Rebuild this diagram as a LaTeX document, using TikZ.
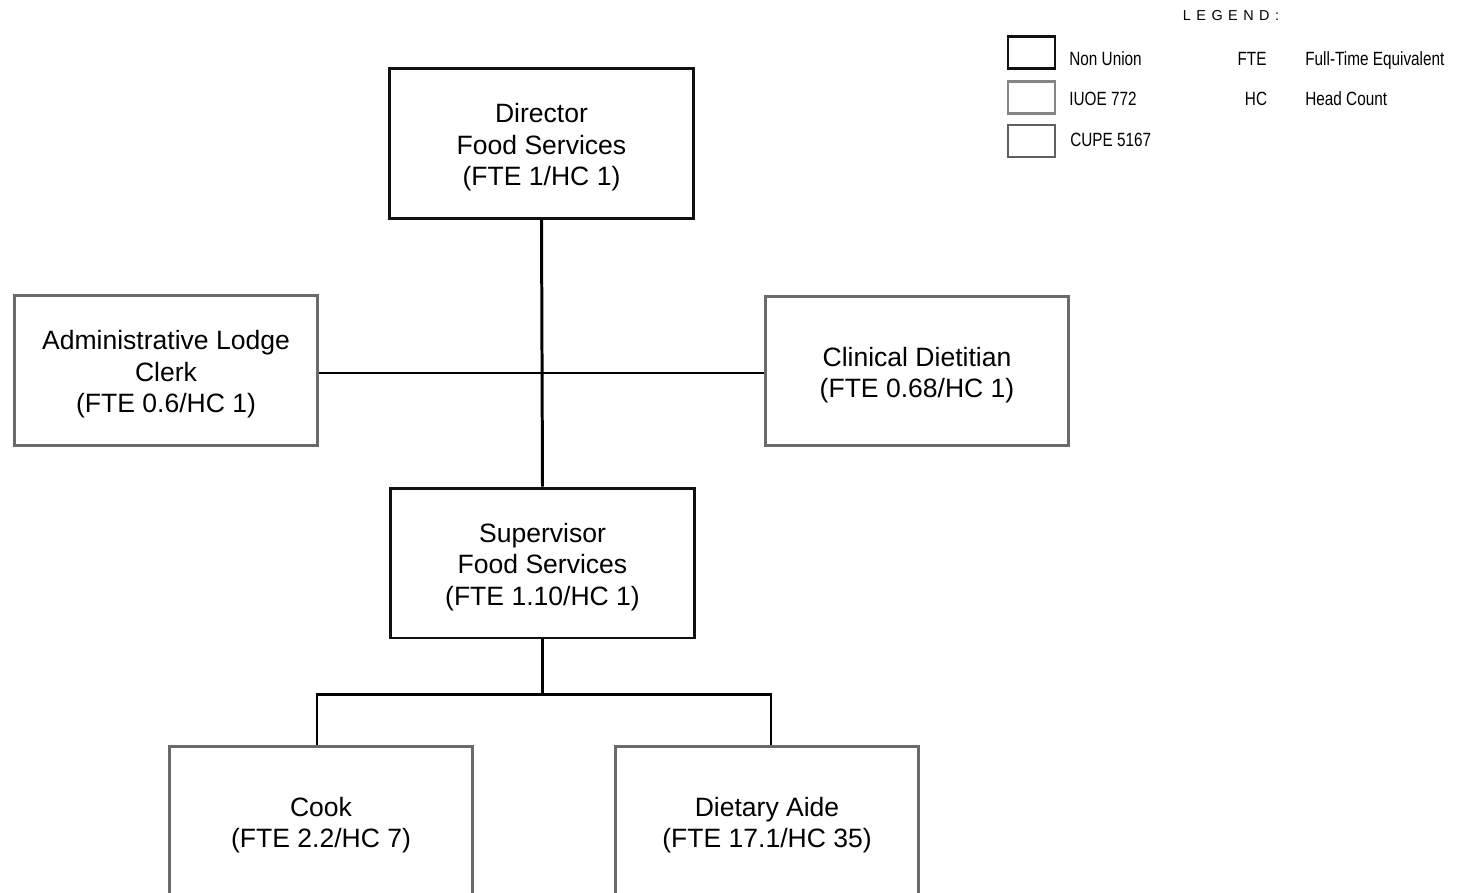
\documentclass[tikz,border=0pt]{standalone}
\usepackage{fontspec}
\setmainfont{Liberation Sans}
\newfontfamily\narrowfont[FakeStretch=0.8]{Liberation Sans}
\newfontfamily\spacedfont[LetterSpace=38]{Liberation Sans}
\definecolor{nonunion}{HTML}{111111}
\definecolor{iuoe}{HTML}{858585}
\definecolor{cupe}{HTML}{606060}
\definecolor{unionbox}{HTML}{6A6A6A}
\tikzset{
  role/.style={draw=nonunion, line width=1.7pt, fill=white, minimum width=6.07cm, minimum height=3.0cm, inner sep=0pt},
  unionrole/.style={role, draw=unionbox},
  roletext/.style={align=center, inner sep=0pt, font=\fontsize{15.1}{17.9}\selectfont, yshift=-0.08cm},
  link/.style={line width=1.7pt, draw=black},
  legbox/.style={line width=1.6pt, minimum width=0.94cm, minimum height=0.64cm, inner sep=0pt},
  legtext/.style={font=\narrowfont\fontsize{10.9}{12}\selectfont, inner sep=0pt}
}
\begin{document}
\begin{tikzpicture}[x=0.02cm,y=-0.02cm]
\useasboundingbox (0,0) rectangle (1465,893);
\begin{scope}
\clip (0,0) rectangle (1465,893);
% Boxes
\node[role] (dir) at (541.5,143.5) {};
\node[unionrole] (clerk) at (166,370.5) {};
\node[unionrole] (diet) at (917,371) {};
\node[role] (sup) at (542.5,563) {};
\node[unionrole] (cook) at (321,821) {};
\node[unionrole] (aide) at (767,821) {};
% Texts
\node[roletext] (dirt) at (dir.center) {Director\\Food Services\\(FTE 1/HC 1)};
\node[roletext] (clerkt) at (clerk.center) {Administrative Lodge\\Clerk\\(FTE 0.6/HC 1)};
\node[roletext] (dietT) at (diet.center) {Clinical Dietitian\\(FTE 0.68/HC 1)};
\node[roletext] (supt) at (sup.center) {Supervisor\\Food Services\\(FTE 1.10/HC 1)};
\node[roletext] (cookt) at (cook.center) {Cook\\(FTE 2.2/HC 7)};
\node[roletext] (aidet) at (aide.center) {Dietary Aide\\(FTE 17.1/HC 35)};
% Connectors
\coordinate (mid) at (542,373);
\draw[link] (dir.south) -- (sup.north);
\draw[link] (clerk.east |- mid) -- (diet.west |- mid);
\draw[link] (sup.south) -- ++(0,55) coordinate (j);
\draw[link] ([xshift=-0.08cm]cook.north) |- (j) -| ([xshift=0.08cm]aide.north);
\end{scope}
% Legend
\node[font=\spacedfont\fontsize{8.2}{10}\selectfont, inner sep=0pt] (legtitle) at (1231,16) {LEGEND:};
\node[legbox, draw=nonunion] (lb1) at (1031.5,52.5) {};
\node[legbox, draw=iuoe] (lb2) at (1031.5,97.5) {};
\node[legbox, draw=cupe] (lb3) at (1031.5,141) {};
\node[legtext, anchor=base west] (lt1) at (1069,65.5) {Non Union};
\node[legtext, anchor=base west] (lt2) at (1069,105.5) {IUOE 772};
\node[legtext, anchor=base west] (lt3) at (1070,146.5) {CUPE 5167};
\node[legtext, anchor=base] (ab1) at (1252,65.5) {FTE};
\node[legtext, anchor=base] (ab2) at (1256,105.5) {HC};
\node[legtext, anchor=base west] (ad1) at (1305,65.5) {Full-Time Equivalent};
\node[legtext, anchor=base west] (ad2) at (1305,105.5) {Head Count};
\end{tikzpicture}
\end{document}
